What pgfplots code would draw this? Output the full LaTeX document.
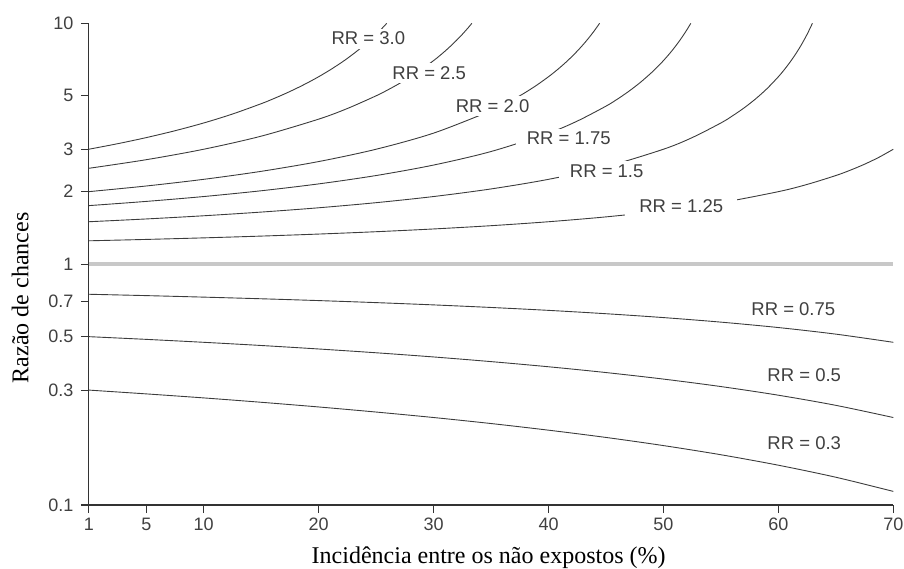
\documentclass[border=0pt]{standalone}
\usepackage{fontspec}
\setmainfont{Liberation Serif}
\newfontfamily\arial{Liberation Sans}
\usepackage{pgfplots}
\pgfplotsset{compat=1.18}
\definecolor{lc}{HTML}{333333}
\definecolor{cc}{HTML}{3C3C3C}
\definecolor{tc}{HTML}{404040}
\definecolor{refl}{HTML}{C8C8C8}
\tikzset{
  curve/.style={cc, line width=0.9bp, smooth},
  lbl/.style={font=\arial\fontsize{18.5bp}{20bp}\selectfont, text=tc, fill=white, inner xsep=11bp, inner ysep=3.5bp},
  lbln/.style={font=\arial\fontsize{18.5bp}{20bp}\selectfont, text=tc, inner sep=0pt},
}
\begin{document}
\begin{tikzpicture}
\useasboundingbox (-88.8bp,-64bp) rectangle (815.2bp,505bp);
\begin{axis}[
  scale only axis, width=804.5bp, height=481.7bp,
  xmin=0, xmax=70, ymode=log, ymin=0.1, ymax=10,
  axis lines*=left,
  axis line style={lc, line width=1.3bp},
  tick align=outside, major tick length=8bp, minor tick length=0pt,
  tick style={lc, line width=1.1bp},
  xtick={0,5,10,20,30,40,50,60,70},
  xticklabels={1,5,10,20,30,40,50,60,70},
  ytick={0.1,0.3,0.5,0.7,1,2,3,5,10},
  yticklabels={0.1,0.3,0.5,0.7,1,2,3,5,10},
  ticklabel style={font=\arial\fontsize{18bp}{20bp}\selectfont, text=tc},
  yticklabel style={xshift=-4bp},
  xticklabel style={yshift=-1.5bp},
  xlabel={Incidência entre os não expostos (\%)},
  ylabel={Razão de chances},
  label style={font=\fontsize{24bp}{28bp}\selectfont},
  xlabel style={at={(axis description cs:0.497,-0.1204)}, anchor=base},
  ylabel style={at={(axis description cs:-0.075,0.43)}, anchor=base},
]
\addplot[refl, line width=3.5bp] coordinates {(0,1) (70,1)};
% RR = 3.0
\addplot[curve] coordinates {(0,3) (2.5,3.1622) (5,3.3529) (7.5,3.5806) (10,3.8571) (12.5,4.2) (15,4.6364) (16,4.8462) (17,5.0816) (18,5.3478) (19,5.6512) (20,6.0) (21,6.4054) (22,6.8824) (22.5,7.1538) (23,7.4516) (23.5,7.7797) (24,8.1429) (24.5,8.5472) (25,9.0) (25.5,9.5106) (25.926,10)};
% RR = 2.5
\addplot[curve] coordinates {(0,2.5) (5,2.7143) (10,3.0) (15,3.4) (20,4.0) (22.5,4.4286) (25,5.0) (26,5.2857) (27,5.6154) (28,6.0) (29,6.4545) (30,7.0) (30.5,7.3158) (31,7.6667) (31.5,8.0588) (32,8.5) (32.5,9.0) (33,9.5714) (33.333,10)};
% RR = 2.0
\addplot[curve] coordinates {(0,2) (5,2.1111) (10,2.25) (15,2.4286) (20,2.6667) (25,3) (30,3.5) (35,4.3333) (36,4.5714) (37,4.8462) (38,5.1667) (39,5.5455) (40,6) (40.5,6.2632) (41,6.5556) (41.5,6.8824) (42,7.25) (42.5,7.6667) (43,8.1429) (43.5,8.6923) (44,9.3333) (44.444,10)};
% RR = 1.75
\addplot[curve] coordinates {(0,1.75) (5,1.8219) (10,1.9091) (15,2.0169) (20,2.1538) (25,2.3333) (30,2.5789) (35,2.9355) (40,3.5) (42.5,3.9268) (45,4.5294) (46,4.8462) (47,5.2254) (48,5.6875) (49,6.2632) (49.5,6.6075) (50,7.0) (50.5,7.4516) (51,7.9767) (51.5,8.5949) (52,9.3333) (52.381,10)};
% RR = 1.5
\addplot[curve] coordinates {(0,1.5) (5,1.5405) (10,1.5882) (15,1.6452) (20,1.7143) (25,1.8) (30,1.9091) (35,2.0526) (40,2.25) (45,2.5385) (50,3.0) (52.5,3.3529) (55,3.8571) (56,4.125) (57,4.4483) (58,4.8462) (59,5.3478) (60,6.0) (60.5,6.4054) (61,6.8824) (61.5,7.4516) (62,8.1429) (62.5,9.0) (62.963,10)};
% RR = 1.25
\addplot[curve] coordinates {(0,1.25) (5,1.2667) (10,1.2857) (15,1.3077) (20,1.3333) (25,1.3636) (30,1.4) (35,1.4444) (40,1.5) (45,1.5714) (50,1.6667) (55,1.8) (60,2.0) (62.5,2.1429) (65,2.3333) (66.25,2.4545) (67.5,2.6) (68.75,2.7778) (70,3.0)};
% RR = 0.75
\addplot[curve] coordinates {(0,0.75) (5,0.7403) (10,0.7297) (15,0.7183) (20,0.7059) (25,0.6923) (30,0.6774) (35,0.6610) (40,0.6429) (45,0.6226) (50,0.6) (55,0.5745) (60,0.5455) (65,0.5122) (70,0.4737)};
% RR = 0.5
\addplot[curve] coordinates {(0,0.5) (5,0.4872) (10,0.4737) (15,0.4595) (20,0.4444) (25,0.4286) (30,0.4118) (35,0.3939) (40,0.375) (45,0.3548) (50,0.3333) (55,0.3103) (60,0.2857) (65,0.2593) (70,0.2308)};
% RR = 0.3
\addplot[curve] coordinates {(0,0.3) (5,0.2893) (10,0.2784) (15,0.2670) (20,0.2553) (25,0.2432) (30,0.2308) (35,0.2179) (40,0.2045) (45,0.1908) (50,0.1765) (55,0.1617) (60,0.1463) (65,0.1304) (70,0.1139)};
\node[lbl] at (axis cs:24.32,8.643) {RR = 3.0};
\node[lbl] at (axis cs:29.62,6.236) {RR = 2.5};
\node[lbl] at (axis cs:35.13,4.530) {RR = 2.0};
\node[lbl] at (axis cs:41.76,3.320) {RR = 1.75};
\node[lbl] at (axis cs:45.06,2.433) {RR = 1.5};
\node[lbl, inner xsep=14bp] at (axis cs:51.55,1.741) {RR = 1.25};
\node[lbln] at (axis cs:61.30,0.6532) {RR = 0.75};
\node[lbln] at (axis cs:62.25,0.3456) {RR = 0.5};
\node[lbln] at (axis cs:62.25,0.1804) {RR = 0.3};
\end{axis}
\end{tikzpicture}
\end{document}
